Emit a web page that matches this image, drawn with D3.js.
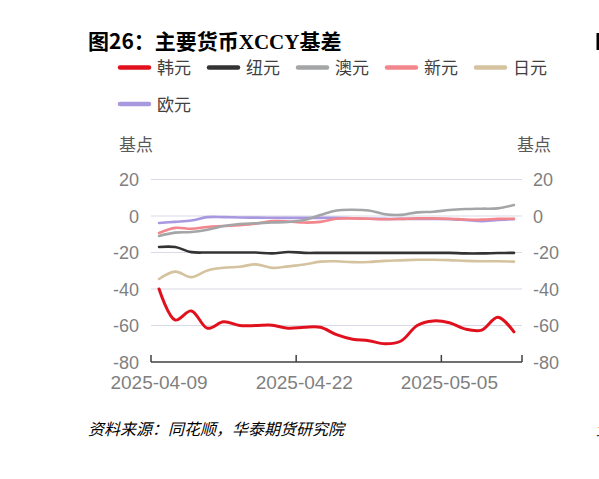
<!DOCTYPE html>
<html>
<head>
<meta charset="utf-8">
<script src="https://cdn.jsdelivr.net/npm/d3@7"></script>
<style>
body{margin:0;background:#fff;}
svg{display:block;}
</style>
</head>
<body>
<div class="chart"></div>
<script>
//日期（工作日）
var dates=["2025-04-09","2025-04-10","2025-04-11","2025-04-14","2025-04-15","2025-04-16","2025-04-17","2025-04-18",
	"2025-04-21","2025-04-22","2025-04-23","2025-04-24","2025-04-25","2025-04-28","2025-04-29","2025-04-30",
	"2025-05-01","2025-05-02","2025-05-05","2025-05-06","2025-05-07","2025-05-08","2025-05-09"];
var krw=[-40,-57,-52,-61.5,-58,-60,-60,-59.8,-61.5,-61,-61,-65,-67.5,-68.3,-70,-68.5,-60,-57.5,-58.5,-62,-62.5,-55.5,-63.5];
var nzd=[-17,-17,-19.8,-20,-20,-20,-20,-20.5,-19.7,-20.2,-20.2,-20.2,-20.2,-20.2,-20.2,-20.2,-20.2,-20.2,-20.2,-20.5,-20.5,-20.3,-20.2];
var aud=[-10.9,-9.1,-8.8,-7.5,-5.5,-4.4,-4,-3.6,-3.3,-2.2,0.5,3,3.4,3,1,0.6,2,2.3,3.3,3.8,4,4.2,6];
var sgd=[-9.3,-6.5,-7,-6,-5.5,-5,-4.2,-2.8,-3,-3.6,-3.2,-1.5,-1.3,-1.5,-1.8,-1.6,-1.3,-1.3,-1.5,-1.9,-2,-1.6,-1.5];
var jpy=[-34.5,-30.5,-33.5,-29.8,-28.4,-27.8,-26.5,-28.4,-27.6,-26.6,-25,-24.8,-25.3,-25.2,-24.6,-24.3,-24,-24,-24.2,-24.6,-24.8,-24.8,-25];
var eur=[-3.8,-3.2,-2.5,-0.6,-0.6,-0.8,-0.9,-1,-1,-1,-1,-1,-1.2,-1.5,-1.6,-1.6,-1.6,-1.6,-1.7,-2.2,-2.8,-2.2,-1.7];
var yTicks=[20,0,-20,-40,-60,-80];
var xLabels=["2025-04-09","2025-04-22","2025-05-05"];

var series=[
	{name:"韩元",values:krw,color:"#e0111c",w:3},
	{name:"纽元",values:nzd,color:"#333333",w:2.6},
	{name:"澳元",values:aud,color:"#a3a5a7",w:2.6},
	{name:"新元",values:sgd,color:"#f2868c",w:2.6},
	{name:"日元",values:jpy,color:"#d5c29f",w:2.6},
	{name:"欧元",values:eur,color:"#a898e0",w:2.6}
];

var width=599,height=479;
var svg=d3.select('div.chart')
		.append('svg')
		.attr('width',width)
		.attr('height',height);

var font='"Noto Sans CJK SC","Noto Sans",sans-serif';

//标题
var title=svg.append('text')
	.attr('x',88).attr('y',49)
	.style('font-family',font)
	.style('font-size','21px')
	.style('font-weight','bold')
	.attr('fill','#000');
title.append('tspan').text('图26：主要货币');
title.append('tspan').text('XCCY')
	.style('font-family','"Liberation Serif","DejaVu Serif",serif');
title.append('tspan').text('基差');

//右侧被截断的下一张图
svg.append('rect').attr('x',596.5).attr('y',33).attr('width',3).attr('height',17).attr('fill','#000');

//图例
var legend=svg.append('g').selectAll('g')
	.data(series)
	.enter()
	.append('g')
	.attr('transform',function(d,i){
		var col=i%5,row=Math.floor(i/5);
		return 'translate('+(120+col*89)+','+(67.5+row*36.5)+')';
	});
legend.append('line')
	.attr('x1',0).attr('x2',29)
	.attr('stroke',function(d){return d.color;})
	.attr('stroke-width',4.5)
	.attr('stroke-linecap','round');
legend.append('text')
	.attr('x',37).attr('y',6.5)
	.style('font-family',font)
	.style('font-size','17px')
	.attr('fill','#404040')
	.text(function(d){return d.name;});

//坐标轴
var x=d3.scaleBand().domain(dates).range([151,522]).padding(0);
var y=d3.scaleLinear().domain([-80,20]).range([362,179.5]);
var cx=function(i){return x(dates[i])+x.bandwidth()/2;};

svg.append('g').selectAll('line')
	.data(yTicks.filter(function(t){return t!==-80;}))
	.enter().append('line')
	.attr('x1',151).attr('x2',522)
	.attr('y1',function(d){return y(d);})
	.attr('y2',function(d){return y(d);})
	.attr('stroke','#d9dce8')
	.attr('stroke-width',1.2);

svg.append('g').selectAll('text')
	.data(yTicks).enter().append('text')
	.attr('x',139).attr('y',function(d){return y(d)+6.5;})
	.attr('text-anchor','end')
	.style('font-family','"Liberation Sans",Arial,sans-serif')
	.style('font-size','18px')
	.attr('fill','#7f7f7f')
	.text(function(d){return d;});
svg.append('g').selectAll('text')
	.data(yTicks).enter().append('text')
	.attr('x',533).attr('y',function(d){return y(d)+6.5;})
	.attr('text-anchor','start')
	.style('font-family','"Liberation Sans",Arial,sans-serif')
	.style('font-size','18px')
	.attr('fill','#7f7f7f')
	.text(function(d){return d;});

svg.append('text').attr('x',119).attr('y',151)
	.style('font-family',font).style('font-size','17px').attr('fill','#595959').text('基点');
svg.append('text').attr('x',517).attr('y',151)
	.style('font-family',font).style('font-size','17px').attr('fill','#595959').text('基点');

//x轴
var xa=svg.append('g');
xa.append('line').attr('x1',151).attr('x2',522).attr('y1',362).attr('y2',362)
	.attr('stroke','#404040').attr('stroke-width',1.5);
var tickPos=xLabels.map(function(d){return x(d);}).concat([522]);
xa.selectAll('line.tick').data(tickPos).enter().append('line')
	.attr('class','tick')
	.attr('x1',function(d){return d;}).attr('x2',function(d){return d;})
	.attr('y1',355).attr('y2',362)
	.attr('stroke','#404040').attr('stroke-width',1.5);
xa.selectAll('text').data(xLabels).enter().append('text')
	.attr('x',function(d){return x(d)+x.bandwidth()/2;})
	.attr('y',388.5)
	.attr('text-anchor','middle')
	.style('font-family','"Liberation Sans",Arial,sans-serif')
	.style('font-size','19px')
	.attr('fill','#7f7f7f')
	.text(function(d){return d;});

//折线
var line=d3.line()
	.x(function(d,i){return cx(i);})
	.y(function(d){return y(d);})
	.curve(d3.curveCatmullRom.alpha(0.5));
svg.append('g').selectAll('path')
	.data(series.slice().reverse())
	.enter().append('path')
	.attr('d',function(d){return line(d.values);})
	.attr('fill','none')
	.attr('stroke',function(d){return d.color;})
	.attr('stroke-width',function(d){return d.w;})
	.attr('stroke-linejoin','round')
	.attr('stroke-linecap','round');

//资料来源
svg.append('text').attr('x',88).attr('y',435)
	.style('font-family',font).style('font-size','16px').style('font-style','italic')
	.attr('fill','#000').text('资料来源：同花顺，华泰期货研究院');
svg.append('text').attr('x',596).attr('y',435)
	.style('font-family',font).style('font-size','16px').style('font-style','italic')
	.attr('fill','#000').text('资');
</script>
</body>
</html>
